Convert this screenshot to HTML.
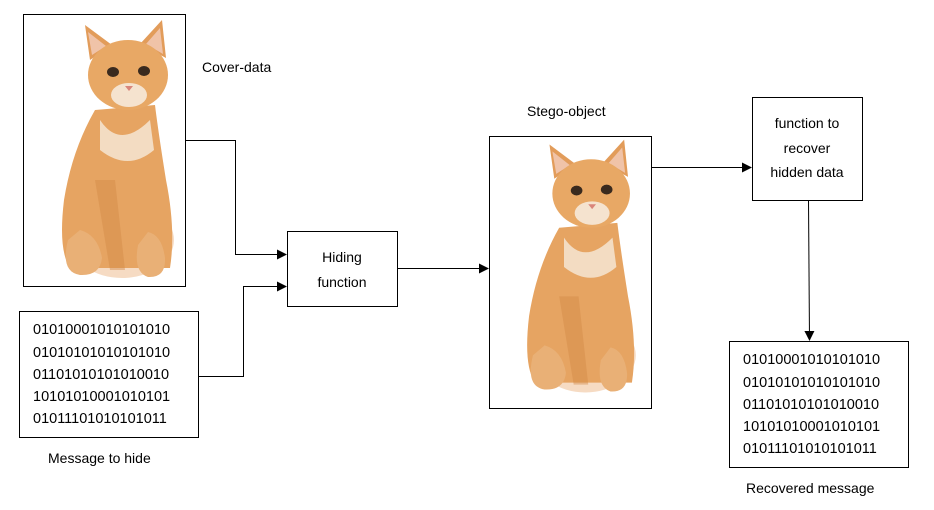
<!DOCTYPE html>
<html><head><meta charset="utf-8"><style>
html,body{margin:0;padding:0;background:#fff;}
body{width:934px;height:510px;overflow:hidden;position:relative;font-family:"Liberation Sans",sans-serif;}
svg{position:absolute;left:0;top:0}
</style></head><body>
<svg width="934" height="510" viewBox="0 0 934 510" xmlns="http://www.w3.org/2000/svg">
<defs>
<g id="cat">
  <ellipse cx="122" cy="240" rx="52" ry="38" fill="#eab07a" opacity="0.45"/>
  <path d="M95 110 Q72 150 64 200 Q58 250 70 268 L170 268 Q176 230 166 180 Q158 130 155 105 Z" fill="#e6a462"/>
  <path d="M100 120 Q120 150 150 120 L154 150 Q128 172 100 150 Z" fill="#f3dcc2"/>
  <path d="M68 240 Q60 272 80 275 Q100 276 102 258 Q98 235 80 230 Z" fill="#e9b076"/>
  <path d="M138 245 Q133 272 148 277 Q166 278 165 258 Q162 235 148 232 Z" fill="#e9b076"/>
  <path d="M95 180 L110 270 L125 270 L115 180 Z" fill="#d28a48" opacity="0.45"/>
  <path d="M90 60 L85 25 L112 45 Z" fill="#e29c5a"/>
  <path d="M166 58 L162 20 L140 44 Z" fill="#e29c5a"/>
  <path d="M92 55 L88 32 L106 46 Z" fill="#f0c3a8"/>
  <path d="M163 54 L160 28 L146 44 Z" fill="#f0c3a8"/>
  <ellipse cx="128" cy="75" rx="40" ry="35" fill="#e8a865"/>
  <ellipse cx="129" cy="95" rx="18" ry="12" fill="#f5e3cf"/>
  <ellipse cx="113" cy="72" rx="6" ry="5" fill="#3a2a1e"/>
  <ellipse cx="144" cy="71" rx="6" ry="5" fill="#3a2a1e"/>
  <path d="M125 86 L133 86 L129 91 Z" fill="#d9857a"/>
</g>
<marker id="ah" markerWidth="10" markerHeight="10" refX="9" refY="5" orient="auto" markerUnits="userSpaceOnUse">
  <path d="M0 0 L10 5 L0 10 Z" fill="#000"/>
</marker>
</defs>
<use href="#cat"/>
<use href="#cat" transform="translate(467,120) scale(0.97,0.98)"/>
<g fill="none" stroke="#000" stroke-width="1">
  <rect x="23.5" y="14.5" width="162" height="272"/>
  <rect x="19.5" y="311.5" width="179" height="126"/>
  <rect x="287.5" y="231.5" width="110" height="75"/>
  <rect x="489.5" y="136.5" width="162" height="272"/>
  <rect x="752.5" y="97.5" width="110" height="103"/>
  <rect x="729.5" y="341.5" width="179" height="126"/>
  <polyline points="185,140.5 235.5,140.5 235.5,254.5 286,254.5" marker-end="url(#ah)"/>
  <polyline points="198,376.5 243.5,376.5 243.5,286.5 286,286.5" marker-end="url(#ah)"/>
  <line x1="397" y1="268.5" x2="488" y2="268.5" marker-end="url(#ah)"/>
  <line x1="652" y1="167.5" x2="751" y2="167.5" marker-end="url(#ah)"/>
  <line x1="808.5" y1="200" x2="809.5" y2="340" marker-end="url(#ah)"/>
</g>
<g font-family="Liberation Sans, sans-serif" font-size="14" fill="#000">
  <text x="202" y="72">Cover-data</text>
  <text x="527" y="116">Stego-object</text>
  <text x="48" y="463">Message to hide</text>
  <text x="746" y="493">Recovered message</text>
  <text x="342" y="262" text-anchor="middle">Hiding</text>
  <text x="342" y="287" text-anchor="middle">function</text>
  <text x="807" y="128" text-anchor="middle">function to</text>
  <text x="807" y="153" text-anchor="middle">recover</text>
  <text x="807" y="177" text-anchor="middle">hidden data</text>
</g>
<g font-family="Liberation Sans, sans-serif" font-size="14.5" fill="#000">
  <text x="33" y="334">01010001010101010</text>
  <text x="33" y="357">01010101010101010</text>
  <text x="33" y="379">01101010101010010</text>
  <text x="33" y="401">10101010001010101</text>
  <text x="33" y="423">01011101010101011</text>
  <text x="743" y="364">01010001010101010</text>
  <text x="743" y="387">01010101010101010</text>
  <text x="743" y="409">01101010101010010</text>
  <text x="743" y="431">10101010001010101</text>
  <text x="743" y="453">01011101010101011</text>
</g>
</svg>
</body></html>
